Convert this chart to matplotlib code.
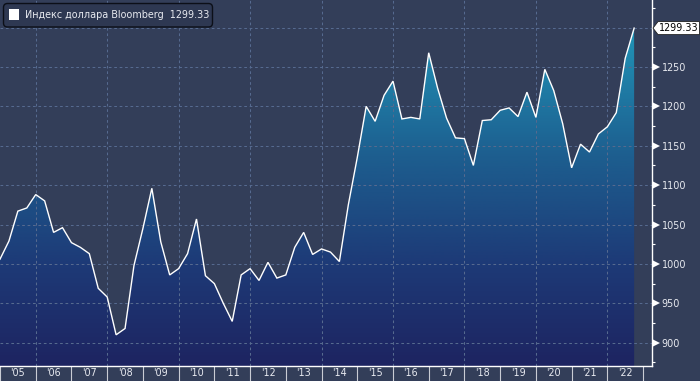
import matplotlib
matplotlib.use("Agg")
import matplotlib.pyplot as plt
import numpy as np
from matplotlib.colors import LinearSegmentedColormap
from matplotlib.patches import Polygon, FancyBboxPatch, Rectangle

# ---------------- data ----------------
start_year = 2005
values = [1006, 1029, 1067, 1071, 1088, 1080, 1040, 1046, 1027, 1021,
          1013, 969, 958, 910, 918, 998, 1045, 1096, 1028, 986,
          994, 1013, 1057, 985, 975, 950, 927, 986, 994, 979,
          1002, 982, 986, 1021, 1040, 1012, 1019, 1015, 1003, 1075,
          1135, 1200, 1181, 1214, 1232, 1184, 1186, 1184, 1268, 1223,
          1185, 1160, 1159, 1125, 1182, 1183, 1195, 1198, 1187, 1218,
          1186, 1247, 1220, 1178, 1122, 1152, 1142, 1165, 1174, 1192,
          1261, 1299.33]
last_value = 1299.33
series_name = "Индекс доллара Bloomberg"
year_labels = ["'05", "'06", "'07", "'08", "'09", "'10", "'11", "'12", "'13",
               "'14", "'15", "'16", "'17", "'18", "'19", "'20", "'21", "'22"]
y_major = [900, 950, 1000, 1050, 1100, 1150, 1200, 1250, 1300]
y_labels = ["900", "950", "1000", "1050", "1100", "1150", "1200", "1250", ""]
y_minor = [875, 925, 975, 1025, 1075, 1125, 1175, 1225, 1275, 1325]

# ---------------- style ----------------
BG = "#333e59"
GRID = "#566a8f"
TXT = "#e8eaf0"
FONT = "DejaVu Sans"
FS = 6.9
plt.rcParams["font.family"] = FONT

W, H = 700, 381
fig = plt.figure(figsize=(W / 100, H / 100), dpi=100)
fig.patch.set_facecolor(BG)
ax_left, ax_bottom, ax_w, ax_h = 0, 15, 652, 366
ax = fig.add_axes([ax_left / W, ax_bottom / H, ax_w / W, ax_h / H])
ax.set_facecolor(BG)

t = start_year + np.arange(len(values)) * 0.25
ymin, ymax = 870.4, 1335
xlim = (start_year, start_year + len(year_labels) + 0.25)

# gradient fill under the line
cmap = LinearSegmentedColormap.from_list(
    "fill", [(0.0, "#1e2461"), (0.3, "#1d3a77"), (0.62, "#1d5e8f"), (1.0, "#2194b7")])
grad_vals = np.clip((np.linspace(ymin, ymax, 256) - 870) / (1300 - 870), 0, 1).reshape(-1, 1)
im = ax.imshow(grad_vals, cmap=cmap, vmin=0, vmax=1, origin="lower", aspect="auto",
               extent=[t[0], t[-1], ymin, ymax], zorder=1, interpolation="bilinear")
poly = ax.fill_between(t, values, ymin - 50, color="none", linewidth=0)
im.set_clip_path(poly.get_paths()[0], ax.transData)
ax.set_xlim(*xlim)
ax.set_ylim(ymin, ymax)

ax.plot(t, values, color="white", linewidth=1.0, zorder=4, solid_joinstyle="miter")

# grid
for yv in y_major:
    ax.axhline(yv, color=GRID, linewidth=0.75, linestyle=(0, (2.6, 2.6)), zorder=2)
for yr in range(start_year + 1, start_year + len(year_labels) + 1, 2):
    ax.axvline(yr, color=GRID, linewidth=0.75, linestyle=(0, (2.6, 2.6)), zorder=2)

# spines
for s in ["top", "left"]:
    ax.spines[s].set_visible(False)
for s in ["right", "bottom"]:
    ax.spines[s].set_color("white")
    ax.spines[s].set_linewidth(1.0)
    ax.spines[s].set_zorder(5)

# y axis on right
ax.yaxis.tick_right()
ax.set_yticks(y_major)
ax.set_yticklabels(y_labels)
ax.set_yticks(y_minor, minor=True)
ax.tick_params(axis="y", which="major", length=0, pad=6.8, labelsize=FS, labelcolor=TXT)
ax.tick_params(axis="y", which="minor", length=2.5, width=0.8, color="white", direction="out")
tri_tr = ax.get_yaxis_transform()
ax.plot([1 + 4.2 / ax_w] * 8, y_major[:8], linestyle="none", marker=">", markersize=5.2,
        color="white", markeredgewidth=0, transform=tri_tr, clip_on=False, zorder=6)

# x axis: year separators and labels
years = list(range(start_year, start_year + len(year_labels) + 1))
ax.set_xticks(years)
ax.set_xticklabels([""] * len(years))
ax.set_xticks([y + 0.5 for y in years[:-1]], minor=True)
ax.set_xticklabels(year_labels, minor=True)
ax.tick_params(axis="x", which="major", length=11, width=0.8, color="#c9ccd4", direction="out")
ax.tick_params(axis="x", which="minor", length=0, pad=1.8, labelsize=FS, labelcolor=TXT)

# last value tag
ppu = ax_h / (ymax - ymin)
dy = 6.5 / ppu
x0 = 1 + 1 / ax_w
x1 = 1 + 6 / ax_w
x2 = 1 + 47.5 / ax_w
tag = Polygon([(x0, last_value), (x1, last_value + dy), (x2, last_value + dy),
               (x2, last_value - dy), (x1, last_value - dy)], closed=True,
              facecolor="white", edgecolor="#222222", linewidth=0.6,
              transform=tri_tr, clip_on=False, zorder=7)
ax.add_patch(tag)
ax.text(1 + 7 / ax_w, last_value, f"{last_value:.2f}", transform=tri_tr, ha="left",
        va="center", fontsize=FS, color="black", zorder=8, clip_on=False)

# legend box
inch = fig.dpi_scale_trans
box = FancyBboxPatch((3.5 / 100, (H - 27) / 100), 209 / 100, 23.5 / 100,
                     boxstyle="round,pad=0,rounding_size=0.04",
                     facecolor="#2e3852", edgecolor="#0c0f18", linewidth=1.0,
                     transform=inch, zorder=10)
fig.add_artist(box)
sq = Rectangle((9 / 100, (H - 19.5) / 100), 10 / 100, 10 / 100, facecolor="white",
               edgecolor="none", transform=inch, zorder=11)
fig.add_artist(sq)
fig.text(24.5 / W, (H - 15) / H, f"{series_name}  {last_value:.2f}", ha="left",
         va="center", fontsize=FS, color=TXT, zorder=12)

fig.savefig("out.png", dpi=100, facecolor=BG)
